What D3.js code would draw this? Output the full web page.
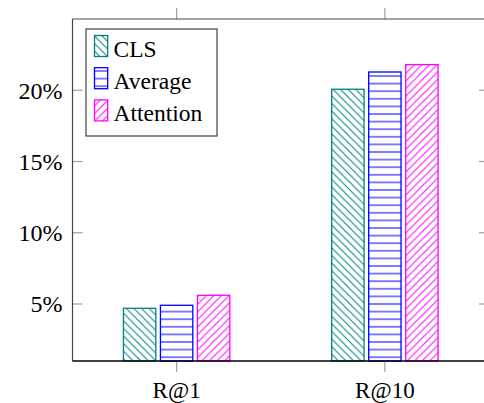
<!DOCTYPE html>
<html>
<head>
<meta charset="utf-8">
<script src="https://cdn.jsdelivr.net/npm/d3@7"></script>
<style>
  body { margin: 0; background: #fff; overflow: hidden; }
  svg { display: block; }
  svg text { font-family: "Liberation Serif", "Times New Roman", serif; fill: #000; }
</style>
</head>
<body>
<div class="chart"></div>
<script>
// data (percent)
var categories = ["R@1", "R@10"];
var series = ["CLS", "Average", "Attention"];
var clsValues = [4.70, 20.07];
var averageValues = [4.91, 21.28];
var attentionValues = [5.61, 21.80];
var yTicks = [5, 10, 15, 20];

var values = [clsValues, averageValues, attentionValues];
var colors = ["#008080", "#0000ff", "#ff00ff"];
var patterns = ["nwlines", "hlines", "nelines"];

var width = 484, height = 403;
var margin = { top: 19, right: -5, bottom: 42, left: 72.5 };
var plotW = width - margin.left - margin.right;
var plotH = height - margin.top - margin.bottom;

var svg = d3.select(".chart")
  .append("svg")
  .attr("width", width)
  .attr("height", height);

// hatch patterns
var defs = svg.append("defs");
var t = 7.6;
function addPattern(id, color, d) {
  defs.append("pattern")
    .attr("id", id)
    .attr("patternUnits", "userSpaceOnUse")
    .attr("width", t)
    .attr("height", t)
    .append("path")
    .attr("d", d)
    .attr("stroke", color)
    .attr("stroke-width", 1)
    .attr("fill", "none");
}
addPattern("nwlines", colors[0], "M-1,-1L" + (t + 1) + "," + (t + 1) + "M" + (-t - 1) + ",-1L1," + (t + 1) + "M" + (t - 1) + ",-1L" + (2 * t + 1) + "," + (t + 1));
addPattern("hlines", colors[1], "M0," + (t / 2) + "L" + t + "," + (t / 2));
addPattern("nelines", colors[2], "M-1," + (t + 1) + "L" + (t + 1) + ",-1M" + (-t - 1) + "," + (t + 1) + "L1,-1M" + (t - 1) + "," + (t + 1) + "L" + (2 * t + 1) + ",-1");

var g = svg.append("g")
  .attr("transform", "translate(" + margin.left + "," + margin.top + ")");

// scales
var x = d3.scalePoint().domain(categories).range([0, plotW]).padding(0.5);
var xInner = d3.scaleBand().domain(series).range([-55.5, 55.5])
  .paddingInner(0.125).paddingOuter(0.0625);
var y = d3.scaleLinear().domain([1, 25]).range([plotH, 0]);

// bars
series.forEach(function (s, i) {
  g.selectAll(".bar-" + i)
    .data(categories)
    .enter()
    .append("rect")
    .attr("x", function (c) { return x(c) + xInner(s); })
    .attr("width", xInner.bandwidth())
    .attr("y", function (c, j) { return y(values[i][j]); })
    .attr("height", function (c, j) { return plotH - y(values[i][j]); })
    .attr("fill", "url(#" + patterns[i] + ")")
    .attr("stroke", colors[i])
    .attr("stroke-width", 1.3);
});

// ticks (y inside, x outside), gray
var tickColor = "#a0a0a0";
g.selectAll(".ytick-l").data(yTicks).enter().append("line")
  .attr("x1", 0).attr("x2", 10)
  .attr("y1", function (d) { return y(d); }).attr("y2", function (d) { return y(d); })
  .attr("stroke", tickColor).attr("stroke-width", 1.2);
g.selectAll(".ytick-r").data(yTicks).enter().append("line")
  .attr("x1", plotW - 10).attr("x2", plotW)
  .attr("y1", function (d) { return y(d); }).attr("y2", function (d) { return y(d); })
  .attr("stroke", tickColor).attr("stroke-width", 1.2);
g.selectAll(".xtick-b").data(categories).enter().append("line")
  .attr("x1", function (d) { return x(d); }).attr("x2", function (d) { return x(d); })
  .attr("y1", plotH).attr("y2", plotH + 11)
  .attr("stroke", tickColor).attr("stroke-width", 1.2);
g.selectAll(".xtick-t").data(categories).enter().append("line")
  .attr("x1", function (d) { return x(d); }).attr("x2", function (d) { return x(d); })
  .attr("y1", 0).attr("y2", -11)
  .attr("stroke", tickColor).attr("stroke-width", 1.2);

// axis frame (right side falls just outside the picture)
g.append("line").attr("x1", 0).attr("x2", 0).attr("y1", 0).attr("y2", plotH)
  .attr("stroke", "#444").attr("stroke-width", 1.2);
g.append("line").attr("x1", 0).attr("x2", plotW).attr("y1", 0).attr("y2", 0)
  .attr("stroke", "#444").attr("stroke-width", 1.2);
g.append("line").attr("x1", plotW).attr("x2", plotW).attr("y1", 0).attr("y2", plotH)
  .attr("stroke", "#444").attr("stroke-width", 1.2);
g.append("line").attr("x1", 0).attr("x2", plotW).attr("y1", plotH).attr("y2", plotH)
  .attr("stroke", "#000").attr("stroke-width", 1.3);

// tick labels
g.selectAll(".ylabel").data(yTicks).enter().append("text")
  .attr("x", -10)
  .attr("y", function (d) { return y(d); })
  .attr("dy", "0.35em")
  .attr("text-anchor", "end")
  .attr("font-size", 24)
  .text(function (d) { return d + "%"; });

g.selectAll(".xlabel").data(categories).enter().append("text")
  .attr("x", function (d) { return x(d); })
  .attr("y", plotH + 37)
  .attr("text-anchor", "middle")
  .attr("font-size", 23)
  .text(function (d) { return d; });

// legend
var legend = svg.append("g").attr("transform", "translate(86,29)");
legend.append("rect")
  .attr("width", 131).attr("height", 107)
  .attr("fill", "#fff").attr("stroke", "#444").attr("stroke-width", 1.2);
series.forEach(function (s, i) {
  var row = legend.append("g").attr("transform", "translate(0," + (6 + i * 32.2) + ")");
  row.append("rect")
    .attr("x", 8.5).attr("y", 0.5)
    .attr("width", 13.2).attr("height", 21)
    .attr("fill", "url(#" + patterns[i] + ")")
    .attr("stroke", colors[i]).attr("stroke-width", 1.3);
  row.append("text")
    .attr("x", 27.5).attr("y", 21.5)
    .attr("font-size", 23.5)
    .text(s);
});
</script>
</body>
</html>
